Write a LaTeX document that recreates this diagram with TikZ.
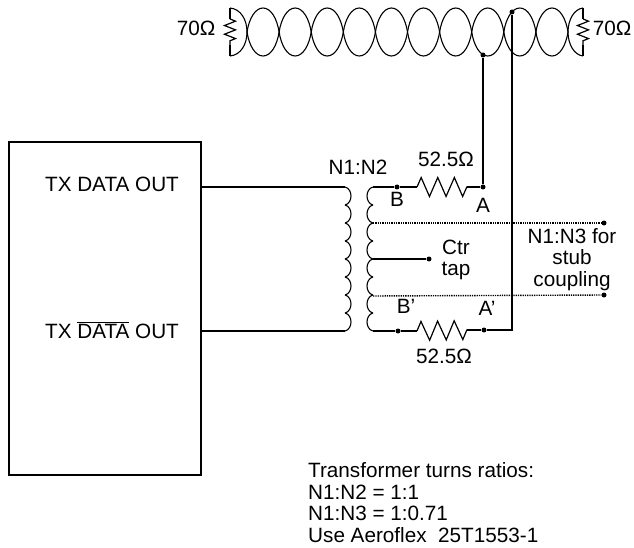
\documentclass[tikz,border=0pt]{standalone}
\usepackage{fontspec}
\setmainfont{Liberation Sans}
\usetikzlibrary{decorations.pathmorphing}

\tikzset{
  wire/.style={line width=1.9pt},
  thinwire/.style={line width=1.1pt},
  tapline/.style={line width=1.4pt,dash pattern=on 1.3pt off 1pt},
  terminal/.style={circle,fill=black,inner sep=0pt,minimum size=5pt},
  resistor/.style={line width=1.2pt,decorate,decoration={zigzag,segment length=16.6pt,amplitude=9.5pt}},
  label/.style={inner sep=0pt,align=center,anchor=base,font=\fontsize{20.7}{21.5}\selectfont},
}

\begin{document}
\begin{tikzpicture}[x=1pt,y=-1pt]
  \useasboundingbox (0,0) rectangle (634,548);

  % transmitter
  \node[draw,line width=1.9pt,minimum width=192pt,minimum height=333pt,anchor=north west,inner sep=0pt] (tx) at (8,141) {};
  \node[label] (txhi) at (112,192) {TX DATA OUT};
  \node[label] (txlo) at (112,338) {TX $\overline{\mbox{DATA}}$ OUT};

  % twisted pair
  \foreach \x in {247,279.1,311.2,343.3,375.4,407.5,439.6,471.7,503.8,535.9}
    \draw[thinwire] (\x,32) .. controls (\x+2,19) and (\x+8,8) .. (\x+16.05,8)
      .. controls (\x+24.1,8) and (\x+30.1,19) .. (\x+32.1,32)
      .. controls (\x+30.1,45) and (\x+24.1,56) .. (\x+16.05,56)
      .. controls (\x+8,56) and (\x+2,45) .. (\x,32);
  \coordinate (endLa) at (230,8);
  \coordinate (endLb) at (230,56);
  \coordinate (endRa) at (583,8);
  \coordinate (endRb) at (583,56);
  \coordinate (crossL) at (247,32);
  \coordinate (crossR) at (568,32);
  \draw[thinwire] (endLa) .. controls (241,9) and (247,20) .. (crossL) .. controls (247,44) and (241,55) .. (endLb);
  \draw[thinwire] (endRa) .. controls (574,9) and (568,20) .. (crossR) .. controls (568,44) and (574,55) .. (endRb);
  \coordinate (termLa) at (230,19);
  \coordinate (termLb) at (230,45);
  \coordinate (termRa) at (583,19);
  \coordinate (termRb) at (583,45);
  \draw[wire] (endLa) -- (termLa) (termLb) -- (endLb);
  \draw[wire] (endRa) -- (termRa) (termRb) -- (endRb);
  \draw[resistor,decoration={segment length=8.7pt,amplitude=5.5pt}] (termLa) -- (termLb);
  \draw[resistor,decoration={segment length=8.7pt,amplitude=5.5pt}] (termRa) -- (termRb);
  \node[label] (loadL) at (196,36) {70Ω};
  \node[label] (loadR) at (612,36) {70Ω};

  % transformer
  \coordinate (priTop) at (345,186.7);
  \coordinate (priBot) at (345,331);
  \coordinate (secTop) at (373,187);
  \coordinate (secBot) at (373,331);
  \coordinate (txTop) at (200,186.7);
  \coordinate (txBot) at (200,331);
  \foreach \y in {187,205,223,241,259,277,295,313} {
    \draw[thinwire] (345,\y) .. controls (353,\y+2) and (353,\y+16) .. (345,\y+18);
    \draw[thinwire] (373,\y) .. controls (365,\y+2) and (365,\y+16) .. (373,\y+18);
  }
  \node[label] (ratio) at (358,175) {N1:N2};
  \draw[wire] (txTop) -- (priTop);
  \draw[wire] (txBot) -- (priBot);

  % secondary, upper leg
  \node[terminal] (B) at (397,187) {};
  \node[terminal] (A) at (483,187) {};
  \node[terminal] (lineA) at (483,55) {};
  \coordinate (resAa) at (417,187);
  \coordinate (resAb) at (467,187);
  \draw[wire] (secTop) -- (B) -- (resAa);
  \draw[resistor] (resAa) -- (resAb);
  \draw[wire] (resAb) -- (A) -- (lineA);
  \node[label] (resAval) at (446,167) {52.5Ω};
  \node[label] (Blab) at (397,207) {B};
  \node[label] (Alab) at (483,212) {A};

  % secondary, lower leg
  \node[terminal] (Bp) at (398,331) {};
  \node[terminal] (Ap) at (484,330) {};
  \node[terminal] (lineB) at (512,12) {};
  \coordinate (resBa) at (417,331);
  \coordinate (resBb) at (467,330);
  \coordinate (corner) at (512,330);
  \draw[wire] (secBot) -- (Bp) -- (resBa);
  \draw[resistor] (resBa) -- (resBb);
  \draw[wire] (resBb) -- (Ap) -- (corner) -- (lineB);
  \node[label] (resBval) at (444,363) {52.5Ω};
  \node[label] (Bplab) at (406,313) {B'};
  \node[label] (Aplab) at (487,315) {A'};

  % centre tap and stub taps
  \node[terminal] (ctr) at (429,259) {};
  \coordinate (ctrSec) at (373,259);
  \draw[wire] (ctrSec) -- (ctr);
  \node[label,anchor=center] (ctrlab) at (456,260) {Ctr\\tap};
  \node[terminal] (stubA) at (604,223) {};
  \node[terminal] (stubB) at (604,295) {};
  \coordinate (stubSecA) at (373,223);
  \coordinate (stubSecB) at (373,296);
  \draw[tapline] (stubSecA) -- (stubA);
  \draw[tapline] (stubSecB) -- (stubB);
  \node[label,anchor=center] (stublab) at (572,259.5) {N1:N3 for\\stub\\coupling};

  % notes
  \node[label,align=left,anchor=north west] (notes) at (308,462.5) {Transformer turns ratios:\\N1:N2 = 1:1\\N1:N3 = 1:0.71\\Use Aeroflex\ \ 25T1553-1};
\end{tikzpicture}
\end{document}
